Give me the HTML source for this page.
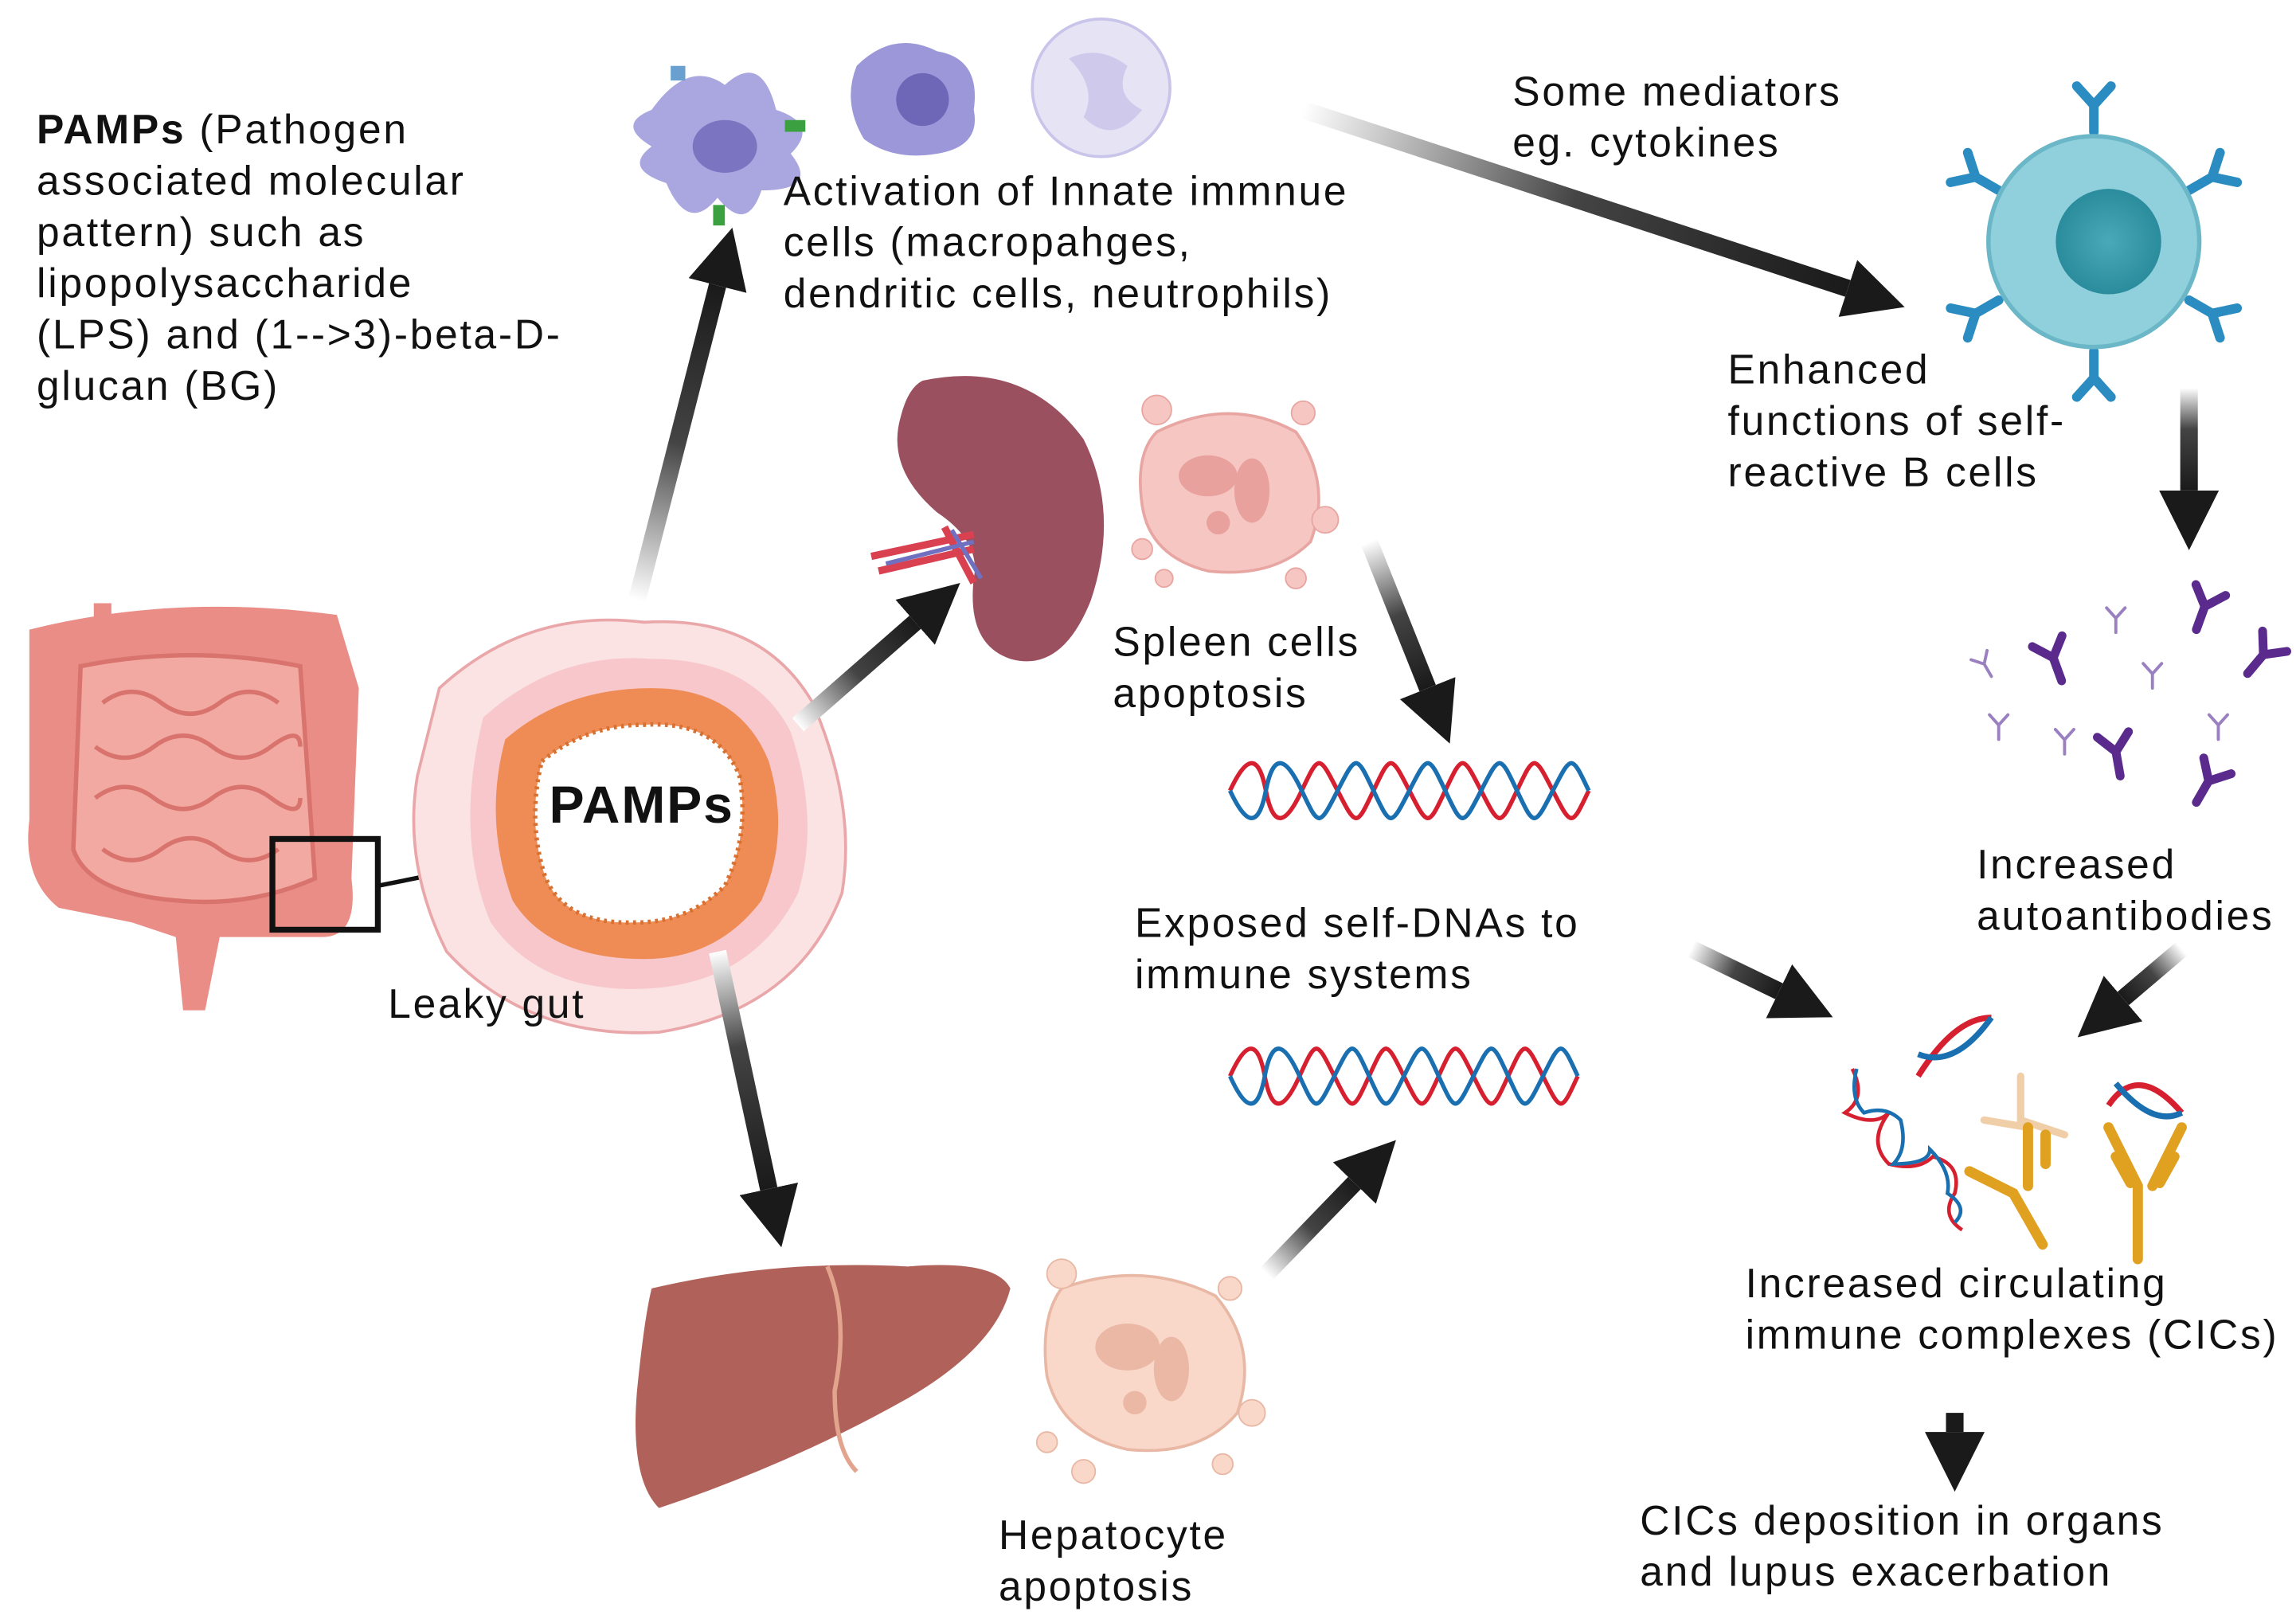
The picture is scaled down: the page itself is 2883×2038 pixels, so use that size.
<!DOCTYPE html>
<html><head><meta charset="utf-8"><style>
html,body{margin:0;padding:0;background:#fff}
svg{display:block}
text{font-family:"Liberation Sans",sans-serif;font-size:28px;letter-spacing:1.5px;fill:#111}
</style></head><body>
<svg width="2883" height="2038" viewBox="0 0 1568 1108.5" xmlns="http://www.w3.org/2000/svg">
<defs>
<marker id="ah" viewBox="0 0 10 10" refX="0" refY="5" markerWidth="3.4" markerHeight="3.4" orient="auto" markerUnits="strokeWidth"><path d="M0,0L10,5L0,10z" fill="#1a1a1a"/></marker>
<linearGradient id="g1" gradientUnits="userSpaceOnUse" x1="435" y1="410" x2="490" y2="195"><stop offset="0" stop-color="#fff"/><stop offset=".5" stop-color="#444"/><stop offset="1" stop-color="#1a1a1a"/></linearGradient>
<linearGradient id="g2" gradientUnits="userSpaceOnUse" x1="890" y1="75" x2="1262" y2="197"><stop offset="0" stop-color="#fff"/><stop offset=".5" stop-color="#444"/><stop offset="1" stop-color="#1a1a1a"/></linearGradient>
<linearGradient id="g3" gradientUnits="userSpaceOnUse" x1="545" y1="495" x2="625" y2="425"><stop offset="0" stop-color="#fff"/><stop offset=".5" stop-color="#444"/><stop offset="1" stop-color="#1a1a1a"/></linearGradient>
<linearGradient id="g4" gradientUnits="userSpaceOnUse" x1="935" y1="370" x2="975" y2="470"><stop offset="0" stop-color="#fff"/><stop offset=".5" stop-color="#444"/><stop offset="1" stop-color="#1a1a1a"/></linearGradient>
<linearGradient id="g5" gradientUnits="userSpaceOnUse" x1="1495" y1="265" x2="1495" y2="335"><stop offset="0" stop-color="#fff"/><stop offset=".4" stop-color="#444"/><stop offset="1" stop-color="#1a1a1a"/></linearGradient>
<linearGradient id="g6" gradientUnits="userSpaceOnUse" x1="490" y1="650" x2="525" y2="812"><stop offset="0" stop-color="#fff"/><stop offset=".4" stop-color="#444"/><stop offset="1" stop-color="#1a1a1a"/></linearGradient>
<linearGradient id="g7" gradientUnits="userSpaceOnUse" x1="865" y1="870" x2="925" y2="808"><stop offset="0" stop-color="#fff"/><stop offset=".5" stop-color="#444"/><stop offset="1" stop-color="#1a1a1a"/></linearGradient>
<linearGradient id="g8" gradientUnits="userSpaceOnUse" x1="1155" y1="648" x2="1215" y2="677"><stop offset="0" stop-color="#fff"/><stop offset=".5" stop-color="#444"/><stop offset="1" stop-color="#1a1a1a"/></linearGradient>
<linearGradient id="g9" gradientUnits="userSpaceOnUse" x1="1490" y1="648" x2="1450" y2="682"><stop offset="0" stop-color="#fff"/><stop offset=".5" stop-color="#444"/><stop offset="1" stop-color="#1a1a1a"/></linearGradient>
<radialGradient id="bc"><stop offset="0" stop-color="#4aa9b8"/><stop offset="1" stop-color="#2a8c9c"/></radialGradient>
<g id="ab" fill="none" stroke-linecap="round"><path d="M0,0V-14M0,-14L-9,-24M0,-14L9,-24"/></g>
<g id="dna" fill="none" stroke-width="3"><path d="M0,20 C12,-5 20,-5 25,20 S38,45 50,20 S62,-5 75,20 S88,45 100,20 S112,-5 125,20 S138,45 150,20 S162,-5 175,20 S188,45 200,20 S212,-5 225,20 S238,45 250,20" stroke="#d62030"/><path d="M0,20 C12,45 20,45 25,20 S38,-5 50,20 S62,45 75,20 S88,-5 100,20 S112,45 125,20 S138,-5 150,20 S162,45 175,20 S188,-5 200,20 S212,45 225,20 S238,-5 250,20" stroke="#1a6fb0"/></g>
</defs>

<g>
<path d="M20,430 Q120,405 230,420 L245,470 L240,600 Q245,640 220,640 L190,640 L150,640 L140,690 L125,690 L120,640 L90,630 L40,620 Q15,600 20,560 Z" fill="#e98d86"/>
<path d="M55,455 Q130,440 205,455 L215,600 Q170,620 120,615 Q60,610 50,580 Z" fill="#f2a9a1" stroke="#d8746d" stroke-width="3"/>
<g fill="none" stroke="#d8746d" stroke-width="3"><path d="M70,480 q20,-15 40,0 t40,0 t40,0"/><path d="M65,510 q20,15 40,0 t40,0 t40,0 t20,0"/><path d="M65,545 q20,-15 40,0 t40,0 t40,0 t20,0"/><path d="M70,580 q20,15 40,0 t40,0 t40,0"/></g>
<rect x="64" y="412" width="12" height="25" fill="#e98d86"/>
<rect x="186" y="573" width="72" height="62" fill="none" stroke="#111" stroke-width="4"/>
<line x1="258" y1="605" x2="298" y2="597" stroke="#111" stroke-width="3"/>
</g>

<path d="M300,470 Q360,415 440,425 Q520,420 555,480 Q585,550 575,610 Q545,690 450,705 Q360,710 305,650 Q275,590 285,530 Z" fill="#fbe3e4" stroke="#e9a7aa" stroke-width="2"/>
<path d="M330,490 Q380,445 445,450 Q515,450 540,500 Q560,560 545,610 Q515,670 445,675 Q370,680 335,630 Q310,570 330,490Z" fill="#f7c7cb"/>
<path d="M345,505 Q385,470 445,470 Q505,470 525,520 Q540,570 520,615 Q490,655 440,655 Q375,655 350,615 Q330,560 345,505Z" fill="#ef8c55"/>
<path d="M370,520 Q400,495 440,495 Q490,492 505,530 Q512,570 495,605 Q470,630 435,630 Q385,632 372,598 Q360,560 370,520Z" fill="#fff" stroke="#d77030" stroke-width="3" stroke-dasharray="2 3"/>
<text x="375" y="562" style="font-size:36px;font-weight:bold;letter-spacing:1px">PAMPs</text>

<g>
<path d="M445,75 Q470,40 495,58 Q520,35 530,75 Q560,85 540,105 Q560,130 520,130 Q510,160 490,135 Q470,160 455,125 Q425,115 445,100 Q420,85 445,75Z" fill="#a9a6e0"/>
<ellipse cx="495" cy="100" rx="22" ry="18" fill="#7b74c0"/>
<rect x="536" y="82" width="14" height="8" fill="#3aa040"/><rect x="487" y="140" width="8" height="14" fill="#3aa040"/><rect x="458" y="45" width="10" height="10" fill="#6aa0d0"/>
<path d="M585,45 Q610,20 640,35 Q670,40 665,75 Q670,100 640,105 Q610,110 590,95 Q575,70 585,45Z" fill="#9c97d8"/>
<circle cx="630" cy="68" r="18" fill="#6e67b8"/>
<circle cx="752" cy="60" r="47" fill="#e6e3f5" stroke="#c9c5ea" stroke-width="2"/>
<path d="M730,40 q20,-10 40,5 q-10,20 10,30 q-20,25 -40,5 q10,-20 -10,-40z" fill="#cfcaec"/>
</g>

<path d="M630,260 Q700,245 740,300 Q765,350 745,410 Q725,460 690,450 Q660,440 665,395 Q670,370 640,350 Q605,320 615,285 Q620,265 630,260Z" fill="#9b5060"/>
<path d="M595,380 L665,365 M600,390 L665,375 M645,360 L665,398" stroke="#d94050" stroke-width="5" fill="none"/>
<path d="M605,385 L665,370 M650,362 L670,395" stroke="#7070c0" stroke-width="3" fill="none"/>
<path d="M790,295 Q840,270 885,295 Q910,330 895,370 Q870,395 825,390 Q785,380 780,345 Q775,310 790,295Z" fill="#f6c6c3" stroke="#e8a6a2" stroke-width="2"/>
<ellipse cx="825" cy="325" rx="20" ry="14" fill="#e8a19c"/><ellipse cx="855" cy="335" rx="12" ry="22" fill="#e8a19c"/><circle cx="832" cy="357" r="8" fill="#e8a19c"/>
<g fill="#f6c6c3" stroke="#e8a6a2"><circle cx="790" cy="280" r="10"/><circle cx="890" cy="282" r="8"/><circle cx="905" cy="355" r="9"/><circle cx="780" cy="375" r="7"/><circle cx="795" cy="395" r="6"/><circle cx="885" cy="395" r="7"/></g>
<text x="760" y="448">Spleen cells</text><text x="760" y="483">apoptosis</text>

<use href="#dna" transform="translate(840,520) scale(0.98,1)"/>
<use href="#dna" transform="translate(840,715) scale(0.95,1)"/>
<text x="775" y="640">Exposed self-DNAs to</text><text x="775" y="675">immune systems</text>

<path d="M445,880 Q530,860 620,865 Q680,860 690,880 Q680,920 620,955 Q540,1000 450,1030 Q430,1010 435,950 Q440,900 445,880Z" fill="#b0625a"/>
<path d="M565,865 Q580,900 570,950 Q570,990 585,1005" stroke="#e2a48c" stroke-width="3" fill="none"/>
<path d="M725,880 Q780,860 830,885 Q860,920 845,965 Q820,995 770,990 Q725,980 715,940 Q710,900 725,880Z" fill="#f9d7c9" stroke="#e8b8a5" stroke-width="2"/>
<ellipse cx="770" cy="920" rx="22" ry="16" fill="#ebb8a5"/><ellipse cx="800" cy="935" rx="12" ry="22" fill="#ebb8a5"/><circle cx="775" cy="958" r="8" fill="#ebb8a5"/>
<g fill="#f9d7c9" stroke="#e8b8a5"><circle cx="725" cy="870" r="10"/><circle cx="840" cy="880" r="8"/><circle cx="855" cy="965" r="9"/><circle cx="715" cy="985" r="7"/><circle cx="740" cy="1005" r="8"/><circle cx="835" cy="1000" r="7"/></g>
<text x="682" y="1058">Hepatocyte</text><text x="682" y="1093">apoptosis</text>

<g stroke="#2a8cc0" stroke-width="5"><use href="#ab" transform="translate(1430,90) scale(1.3)"/><use href="#ab" transform="translate(1430,240) rotate(180) scale(1.3)"/><use href="#ab" transform="translate(1365,130) rotate(-60) scale(1.3)"/><use href="#ab" transform="translate(1495,130) rotate(60) scale(1.3)"/><use href="#ab" transform="translate(1365,205) rotate(-120) scale(1.3)"/><use href="#ab" transform="translate(1495,205) rotate(120) scale(1.3)"/></g>
<circle cx="1430" cy="165" r="72" fill="#8fd0dc" stroke="#6bb7c7" stroke-width="3"/>
<circle cx="1440" cy="165" r="36" fill="url(#bc)"/>
<text x="1180" y="262">Enhanced</text><text x="1180" y="297">functions of self-</text><text x="1180" y="332">reactive B cells</text>

<g stroke="#5a2a8c" stroke-width="5">
<use href="#ab" transform="translate(1500,430) rotate(20) scale(1.2)"/><use href="#ab" transform="translate(1408,465) rotate(-20) scale(1.2)"/><use href="#ab" transform="translate(1535,460) rotate(40) scale(1.2)"/><use href="#ab" transform="translate(1448,530) rotate(-10) scale(1.2)"/><use href="#ab" transform="translate(1500,548) rotate(30) scale(1.2)"/>
</g>
<g stroke="#9a80c0" stroke-width="3"><use href="#ab" transform="translate(1445,432) scale(.7)"/><use href="#ab" transform="translate(1360,462) scale(.7) rotate(-30)"/><use href="#ab" transform="translate(1470,470) scale(.7)"/><use href="#ab" transform="translate(1365,505) scale(.7)"/><use href="#ab" transform="translate(1410,515) scale(.7)"/><use href="#ab" transform="translate(1515,505) scale(.7)"/></g>
<text x="1350" y="600">Increased</text><text x="1350" y="635">autoantibodies</text>

<g fill="none" stroke-width="2.5">
<path d="M1265,730 q10,20 -5,30 q20,10 30,0 q-15,20 0,35 q20,5 30,-5 q20,5 15,25 q-10,15 5,25" stroke="#d62030"/>
<path d="M1268,730 q-5,20 5,30 q15,-5 25,5 q5,20 -5,30 q25,0 25,-10 q15,15 12,30 q15,10 5,20" stroke="#1a6fb0"/>
<path d="M1310,735 q25,-40 50,-40" stroke="#d62030" stroke-width="4"/><path d="M1310,720 q25,10 50,-25" stroke="#1a6fb0" stroke-width="4"/>
<path d="M1440,755 q20,-30 50,5" stroke="#d62030" stroke-width="4"/><path d="M1445,740 q25,30 45,20" stroke="#1a6fb0" stroke-width="4"/>
</g>
<g stroke="#f0cfa8" stroke-width="5" fill="none" stroke-linecap="round"><path d="M1380,735 L1380,765 L1410,775 M1355,765 L1385,770"/></g>
<g stroke="#e0a020" stroke-width="7" fill="none" stroke-linecap="round"><path d="M1460,860 V810 L1440,770 M1470,810 L1490,770 M1445,790 L1455,808 M1475,808 L1485,790"/><path d="M1395,850 L1375,815 L1345,800 M1385,810 L1385,770 M1397,775 V795"/></g>
<text x="1192" y="886">Increased circulating</text><text x="1192" y="921">immune complexes (CICs)</text>
<text x="1120" y="1048">CICs deposition in organs</text><text x="1120" y="1083">and lupus exacerbation</text>

<text x="25" y="98"><tspan font-weight="bold">PAMPs</tspan> (Pathogen</text>
<text x="25" y="133">associated molecular</text>
<text x="25" y="168">pattern) such as</text>
<text x="25" y="203">lipopolysaccharide</text>
<text x="25" y="238">(LPS) and (1--&gt;3)-beta-D-</text>
<text x="25" y="273">glucan (BG)</text>
<text x="535" y="140">Activation of Innate immnue</text>
<text x="535" y="175">cells (macropahges,</text>
<text x="535" y="210">dendritic cells, neutrophils)</text>
<text x="1033" y="72">Some mediators</text>
<text x="1033" y="107">eg. cytokines</text>
<text x="265" y="695">Leaky gut</text>

<g stroke-width="12" fill="none" marker-end="url(#ah)">
<line x1="435" y1="410" x2="490" y2="195" stroke="url(#g1)"/>
<line x1="890" y1="75" x2="1262" y2="197" stroke="url(#g2)"/>
<line x1="545" y1="495" x2="625" y2="425" stroke="url(#g3)"/>
<line x1="935" y1="370" x2="975" y2="470" stroke="url(#g4)"/>
<line x1="1495" y1="265" x2="1495" y2="335" stroke="url(#g5)"/>
<line x1="490" y1="650" x2="525" y2="812" stroke="url(#g6)"/>
<line x1="865" y1="870" x2="925" y2="808" stroke="url(#g7)"/>
<line x1="1155" y1="648" x2="1215" y2="677" stroke="url(#g8)"/>
<line x1="1490" y1="648" x2="1450" y2="682" stroke="url(#g9)"/>
<line x1="1335" y1="965" x2="1335" y2="978" stroke="#1a1a1a"/>
</g>
</svg>
</body></html>
